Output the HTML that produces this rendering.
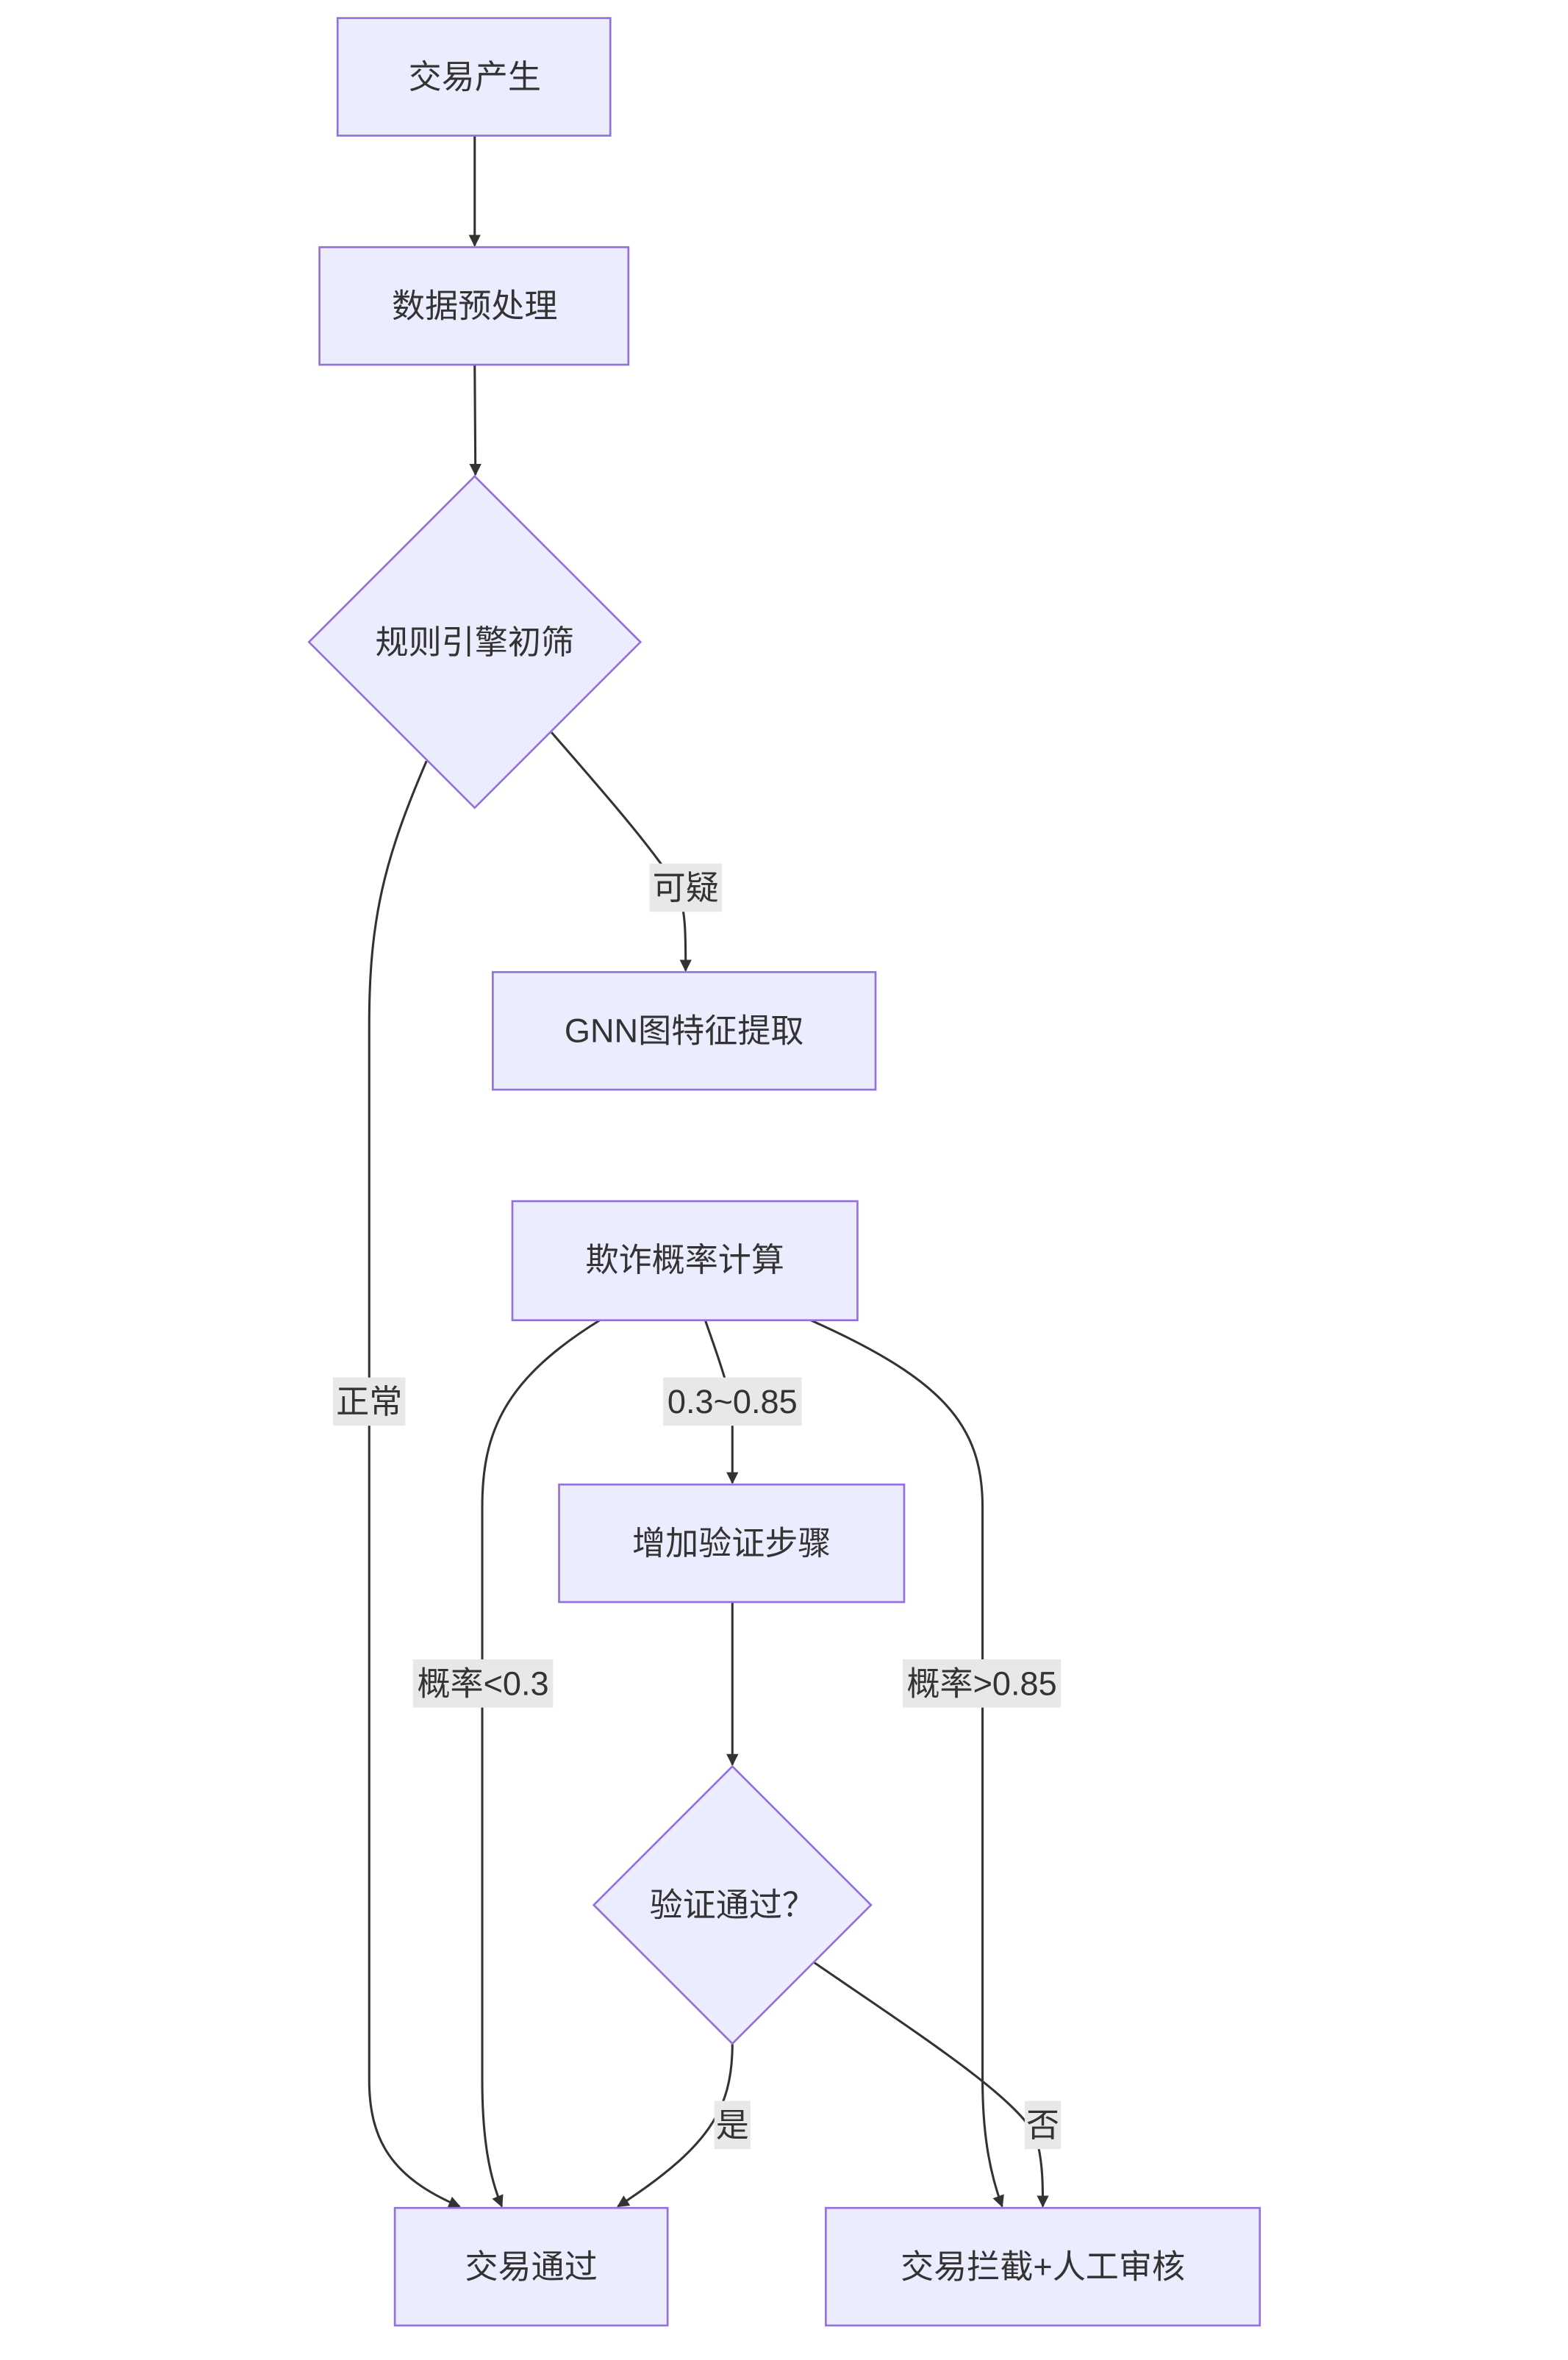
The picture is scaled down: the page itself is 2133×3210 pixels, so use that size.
<!DOCTYPE html>
<html><head><meta charset="utf-8"><style>
html,body{margin:0;padding:0;background:#fff;}
svg{display:block;}
text{font-family:"Liberation Sans","Noto Sans CJK SC",sans-serif;font-size:22px;fill:#333;text-anchor:middle;dominant-baseline:central;}
.n{fill:#ECECFF;stroke:#9370DB;stroke-width:1.3;}
.e{fill:none;stroke:#333;stroke-width:1.5;}
.l{fill:#e8e8e8;}
</style></head><body>
<svg width="2133" height="3210" viewBox="0 0 1040.5 1565.9" xmlns="http://www.w3.org/2000/svg">
<defs><marker id="a" viewBox="0 0 10 10" refX="9" refY="5" markerWidth="8" markerHeight="8" orient="auto-start-reverse" markerUnits="userSpaceOnUse"><path d="M0,0L10,5L0,10z" fill="#333"/></marker></defs>
<!-- edges -->
<path class="e" d="M315,90L315,163" marker-end="url(#a)"/>
<path class="e" d="M315,242L315.5,315" marker-end="url(#a)"/>
<path class="e" d="M366,486C400,525 435,565 450,590C455,605 455,620 455,644" marker-end="url(#a)"/>
<path class="e" d="M283,505C255,570 245,610 245,680L245,1380C245,1420 260,1445 305,1464" marker-end="url(#a)"/>
<path class="e" d="M398,876C335,915 320,950 320,1000L320,1380C320,1420 325,1445 333,1464" marker-end="url(#a)"/>
<path class="e" d="M468,876C478,905 486,925 486,945L486,984" marker-end="url(#a)"/>
<path class="e" d="M538,876C625,915 652,945 652,1000L652,1380C652,1420 658,1445 665,1464" marker-end="url(#a)"/>
<path class="e" d="M486,1063L486,1171" marker-end="url(#a)"/>
<path class="e" d="M486,1356C486,1400 470,1425 410,1464" marker-end="url(#a)"/>
<path class="e" d="M540,1302C610,1350 680,1395 688,1420C692,1435 692,1450 692,1464" marker-end="url(#a)"/>
<!-- nodes -->
<rect class="n" x="224" y="12" width="181" height="78"/><text x="315" y="51">交易产生</text>
<rect class="n" x="212" y="164" width="205" height="78"/><text x="315" y="203">数据预处理</text>
<polygon class="n" points="315,316 425,426 315,536 205,426"/><text x="315" y="426">规则引擎初筛</text>
<rect class="n" x="327" y="645" width="254" height="78"/><text x="454" y="684">GNN图特征提取</text>
<rect class="n" x="340" y="797" width="229" height="79"/><text x="454.5" y="836">欺诈概率计算</text>
<rect class="n" x="371" y="985" width="229" height="78"/><text x="485.5" y="1024">增加验证步骤</text>
<polygon class="n" points="486,1172 578,1264 486,1356 394,1264"/><text x="486" y="1264">验证通过？</text>
<rect class="n" x="262" y="1465" width="181" height="78"/><text x="352.5" y="1504">交易通过</text>
<rect class="n" x="548" y="1465" width="288" height="78"/><text x="692" y="1504">交易拦截+人工审核</text>
<!-- labels -->
<rect class="l" x="431" y="573" width="48" height="32"/><text x="455" y="589">可疑</text>
<rect class="l" x="221" y="914" width="48" height="32"/><text x="245" y="930">正常</text>
<rect class="l" x="274" y="1101" width="93" height="32"/><text x="320.5" y="1117">概率&lt;0.3</text>
<rect class="l" x="440" y="914" width="92" height="32"/><text x="486" y="930">0.3~0.85</text>
<rect class="l" x="599" y="1101" width="105" height="32"/><text x="651.5" y="1117">概率&gt;0.85</text>
<rect class="l" x="474" y="1394" width="24" height="32"/><text x="486" y="1410">是</text>
<rect class="l" x="680" y="1394" width="24" height="32"/><text x="692" y="1410">否</text>
</svg>
</body></html>
